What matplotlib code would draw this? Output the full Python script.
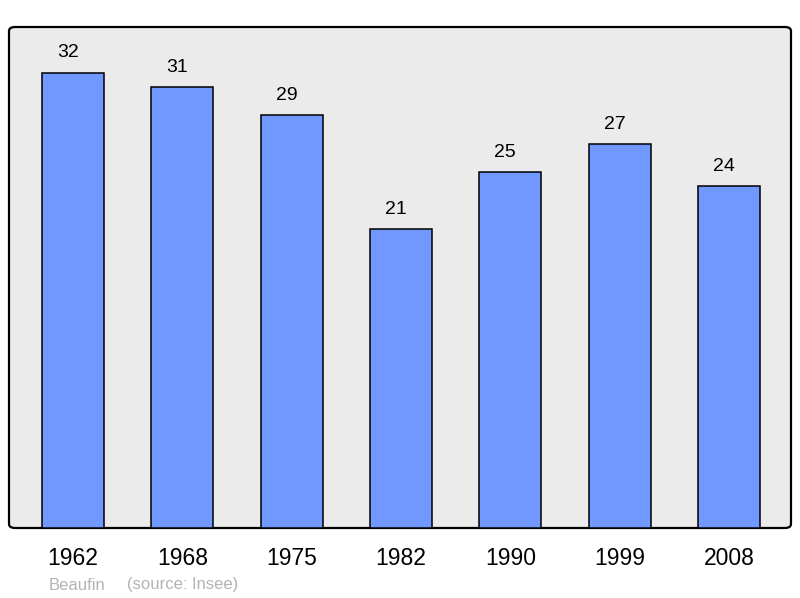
import matplotlib.pyplot as plt
from matplotlib.patches import FancyBboxPatch

years = ['1962', '1968', '1975', '1982', '1990', '1999', '2008']
population = [32, 31, 29, 21, 25, 27, 24]

plt.rcParams['font.family'] = ['Liberation Sans', 'DejaVu Sans']

fig = plt.figure(figsize=(8, 5.98), dpi=100)
ax = fig.add_axes([9 / 800, 70 / 598, 782 / 800, 501 / 598])
ax.set_facecolor('none')

# rounded frame behind the bars
frame = FancyBboxPatch((0, 0), 1, 1, boxstyle='round,pad=0,rounding_size=0.008',
                       transform=ax.transAxes, facecolor='#ebebeb',
                       edgecolor='black', linewidth=1.6, zorder=0,
                       clip_on=False)
ax.add_patch(frame)

x = range(len(years))
bars = ax.bar(x, population, width=0.567, color='#7098ff',
              edgecolor='black', linewidth=1.1, zorder=2)
# value labels sit a little left of the bar centre, as in the original
for xi, v in zip(x, population):
    ax.annotate(str(v), (xi, v), xytext=(-3.6, 8), textcoords='offset points',
                ha='center', va='bottom', fontsize=14)

ax.set_xlim(-0.585, 6.567)
ax.set_ylim(0, 35.2)
ax.set_xticks(list(x))
ax.set_xticklabels(years, fontsize=16.5)
ax.tick_params(axis='x', length=0, pad=13.5)
ax.set_yticks([])
for s in ax.spines.values():
    s.set_visible(False)

fig.text(49 / 800, 1 - 585 / 598, 'Beaufin', color='#b3b3b3',
         fontsize=12, va='center')
fig.text(127 / 800, 1 - 585 / 598, '(source: Insee)', color='#b3b3b3',
         fontsize=12, va='center')

fig.savefig('out.png', dpi=100)
